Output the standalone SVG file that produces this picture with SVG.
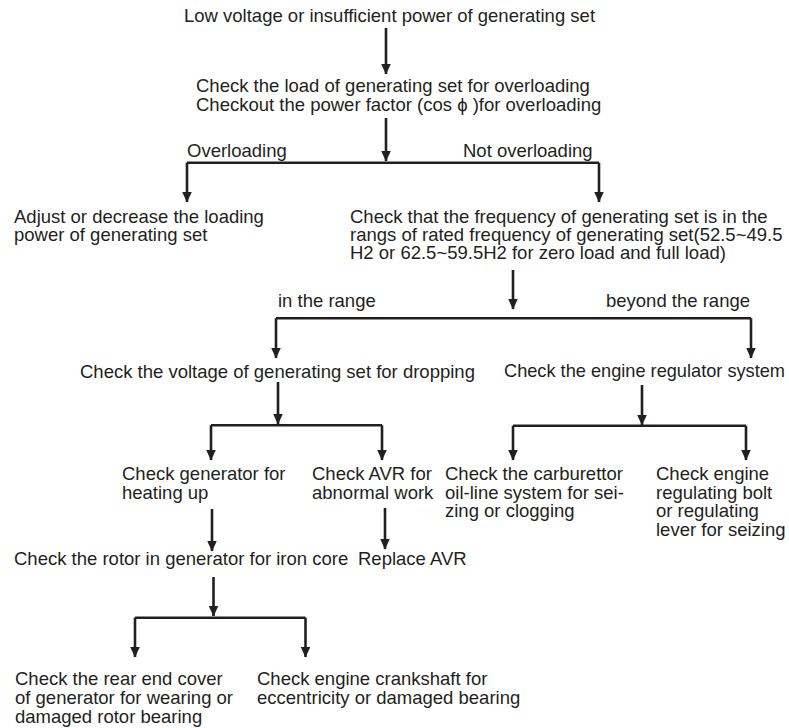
<svg xmlns="http://www.w3.org/2000/svg" width="789" height="728" viewBox="0 0 789 728">
<style>
text{font-family:"Liberation Sans",Arial,Helvetica,sans-serif;font-size:18.5px;fill:#231f20}
.c{fill:none;stroke:#231f20;stroke-width:2.6}
.a{marker-end:url(#ah)}
</style>
<defs>
<marker id="ah" markerUnits="userSpaceOnUse" viewBox="0 0 11 10" refX="10.5" refY="5" markerWidth="11" markerHeight="10" orient="auto">
<path d="M0,0 L11,5 L0,10 Z" fill="#231f20"/>
</marker>
</defs>
<rect width="789" height="728" fill="#fff"/>
<g id="connectors">
<path class="c a" d="M386,28 V74"/>
<path class="c a" d="M386,118 V161"/>
<path class="c" d="M187,162.7 H599"/>
<path class="c a" d="M187,162.7 V202"/>
<path class="c a" d="M599,162.7 V202"/>
<path class="c a" d="M513,270 V309"/>
<path class="c" d="M276,318.3 H751"/>
<path class="c a" d="M276,318.3 V358"/>
<path class="c a" d="M751,318.3 V358"/>
<path class="c a" d="M278,382 V424"/>
<path class="c" d="M211,425.3 H382"/>
<path class="c a" d="M211,425.3 V460"/>
<path class="c a" d="M382,425.3 V460"/>
<path class="c a" d="M642,385 V425"/>
<path class="c" d="M513,425.7 H746"/>
<path class="c a" d="M513,425.7 V460"/>
<path class="c a" d="M746,425.7 V460"/>
<path class="c a" d="M212,509 V551"/>
<path class="c a" d="M385,508 V549"/>
<path class="c a" d="M213.5,577 V616"/>
<path class="c" d="M135,617.7 H305.5"/>
<path class="c a" d="M135,617.7 V657"/>
<path class="c a" d="M305.5,617.7 V657"/>
</g>
<g id="n-start"><text x="184" y="22">Low voltage or insufficient power of generating set</text></g>
<g id="n-checkload"><text x="196" y="92">Check the load of generating set for overloading</text><text x="196" y="111">Checkout the power factor (cos ϕ )for overloading</text></g>
<g id="l-over"><text x="187" y="157">Overloading</text></g>
<g id="l-notover"><text x="463" y="157">Not overloading</text></g>
<g id="n-adjust"><text x="14" y="223">Adjust or decrease the loading</text><text x="14" y="241">power of generating set</text></g>
<g id="n-freq"><text x="350" y="223">Check that the frequency of generating set is in the</text><text x="350" y="241">rangs of rated frequency of generating set(52.5~49.5</text><text x="350" y="259">H2 or 62.5~59.5H2 for zero load and full load)</text></g>
<g id="l-inrange"><text x="278" y="307">in the range</text></g>
<g id="l-beyond"><text x="606" y="307">beyond the range</text></g>
<g id="n-voltage"><text x="80" y="378">Check the voltage of generating set for dropping</text></g>
<g id="n-regulator"><text x="504" y="377" textLength="281" lengthAdjust="spacingAndGlyphs">Check the engine regulator system</text></g>
<g id="n-heating"><text x="122" y="480">Check generator for</text><text x="122" y="498.5">heating up</text></g>
<g id="n-avr"><text x="312" y="480">Check AVR for</text><text x="312" y="498.5">abnormal work</text></g>
<g id="n-carb"><text x="445" y="480">Check the carburettor</text><text x="445" y="498.5">oil-line system for sei-</text><text x="445" y="517">zing or clogging</text></g>
<g id="n-bolt"><text x="656" y="480">Check engine</text><text x="656" y="498.5">regulating bolt</text><text x="656" y="517">or regulating</text><text x="656" y="535.5">lever for seizing</text></g>
<g id="n-rotor"><text x="14" y="565">Check the rotor in generator for iron core</text></g>
<g id="n-replace"><text x="358" y="565">Replace AVR</text></g>
<g id="n-rear"><text x="15" y="685">Check the rear end cover</text><text x="15" y="704">of generator for wearing or</text><text x="15" y="722.5">damaged rotor bearing</text></g>
<g id="n-crank"><text x="257" y="685">Check engine crankshaft for</text><text x="257" y="704">eccentricity or damaged bearing</text></g>
</svg>
